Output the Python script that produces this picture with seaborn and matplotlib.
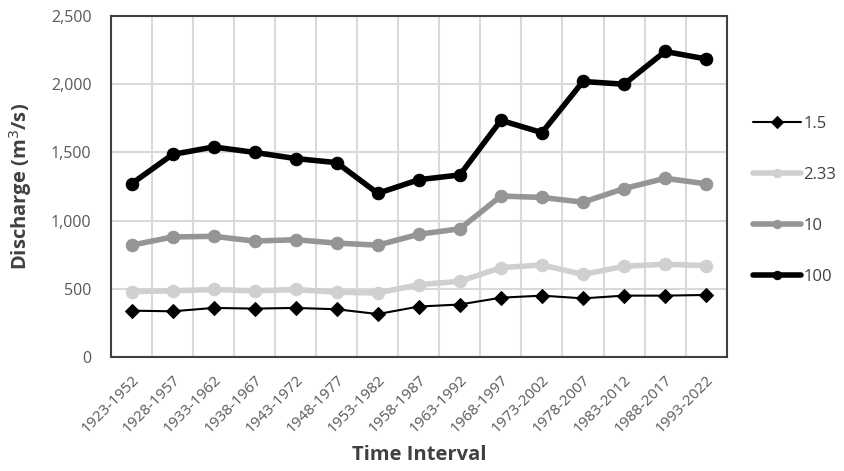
import pandas as pd
import matplotlib.pyplot as plt
import seaborn as sns

# Datos
intervals = ['1923-1952', '1928-1957', '1933-1962', '1938-1967', '1943-1972',
             '1948-1977', '1953-1982', '1958-1987', '1963-1992', '1968-1997',
             '1973-2002', '1978-2007', '1983-2012', '1988-2017', '1993-2022']
q_1_5 = [340, 335, 360, 355, 360, 350, 315, 370, 385, 435, 450, 430, 450, 450, 455]
q_2_33 = [480, 485, 495, 485, 495, 475, 470, 530, 555, 655, 675, 605, 665, 680, 670]
q_10 = [820, 880, 885, 850, 860, 835, 820, 900, 940, 1180, 1170, 1135, 1235, 1310, 1270]
q_100 = [1270, 1485, 1540, 1500, 1455, 1425, 1200, 1300, 1335, 1735, 1645, 2020, 2000, 2240, 2185]

sns.set_style('white')
plt.rcParams['font.family'] = ['Open Sans', 'DejaVu Sans']

fig = plt.figure(figsize=(8.44, 4.71), dpi=100)
ax = fig.add_axes([0.1315, 0.242, 0.7295, 0.724])

series = [
    ('1.5', q_1_5, 'black', 1.5, 'D', 7),
    ('2.33', q_2_33, '#d0d0d0', 4, 'o', 9),
    ('10', q_10, '#959595', 4, 'o', 9),
    ('100', q_100, 'black', 4, 'o', 9),
]
for label, vals, color, lw, marker, ms in series:
    df = pd.DataFrame({'interval': intervals, 'q': vals})
    sns.lineplot(data=df, x='interval', y='q', ax=ax, color=color, linewidth=lw,
                 marker=marker, markersize=ms, markeredgecolor=color,
                 label=label, sort=False)

ax.set_xlim(-0.5, len(intervals) - 0.5)
ax.set_ylim(0, 2500)
ax.set_yticks(range(0, 2501, 500))
ax.set_yticklabels([f'{v:,}' for v in range(0, 2501, 500)])
ax.set_xticks(range(len(intervals)))
ax.set_xticklabels(intervals, rotation=45, ha='right', rotation_mode='anchor')

# rejilla y marcas entre categorías
ax.set_xticks([i + 0.5 for i in range(-1, len(intervals))], minor=True)
ax.grid(True, which='minor', axis='x', color='#d9d9d9', linewidth=1.5)
ax.grid(True, which='major', axis='y', color='#d9d9d9', linewidth=1.5)
ax.set_axisbelow(True)
ax.tick_params(axis='x', which='major', length=0, labelsize=11, colors='#595959', pad=11)
ax.tick_params(axis='x', which='minor', length=5, width=1.5, color='#404040', direction='out')
ax.tick_params(axis='y', length=5, width=1.5, color='#404040', direction='out',
               labelsize=11.5, labelcolor='#595959', pad=9)
for s in ax.spines.values():
    s.set_color('#404040')
    s.set_linewidth(1.5)

ax.set_xlabel('Time Interval', fontsize=14.5, fontweight='bold', color='#404040',
              va='center')
ax.xaxis.set_label_coords(0.5, -0.287)
ax.set_ylabel('Discharge (m$^3$/s)', fontsize=14.5, fontweight='bold', color='#404040', labelpad=12)

leg = ax.legend(loc='center left', bbox_to_anchor=(1.042, 0.46), frameon=False,
                borderaxespad=0, borderpad=0,
                labelspacing=2.1, handlelength=2.9, handletextpad=0.15, fontsize=12)
for t in leg.get_texts():
    t.set_color('#404040')
for h in leg.legend_handles:
    h.set_markersize(6)

plt.savefig('out.png', dpi=100)
